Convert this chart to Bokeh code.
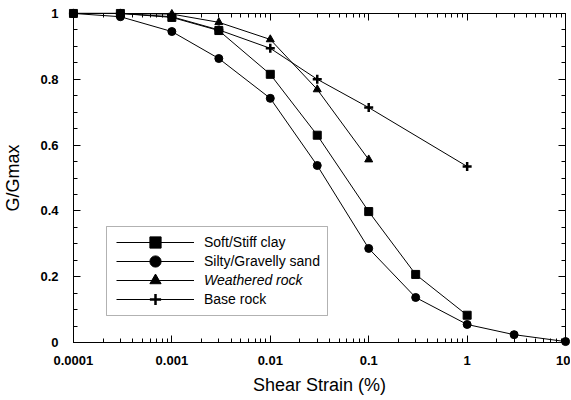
from bokeh.plotting import figure
from bokeh.models import (LogAxis, LinearAxis, Legend, LegendItem, CustomJSTickFormatter,
                          LogTicker, SingleIntervalTicker, Range1d, BoxAnnotation)
from bokeh.embed import file_html
from bokeh.resources import INLINE

# Data
clay_x = [0.0001, 0.0003, 0.001, 0.003, 0.01, 0.03, 0.1, 0.3, 1]
clay_y = [1.0, 1.0, 0.988, 0.948, 0.815, 0.630, 0.398, 0.207, 0.083]
sand_x = [0.0001, 0.0003, 0.001, 0.003, 0.01, 0.03, 0.1, 0.3, 1, 3, 10]
sand_y = [1.0, 0.99, 0.945, 0.863, 0.742, 0.538, 0.286, 0.137, 0.055, 0.024, 0.003]
wrock_x = [0.0001, 0.0003, 0.001, 0.003, 0.01, 0.03, 0.1]
wrock_y = [1.0, 1.0, 0.998, 0.973, 0.921, 0.769, 0.556]
brock_x = [0.0001, 0.0003, 0.001, 0.003, 0.01, 0.03, 0.1, 1]
brock_y = [1.0, 1.0, 0.99, 0.95, 0.894, 0.80, 0.714, 0.535]
labels = ["Soft/Stiff clay", "Silty/Gravelly sand", "Weathered rock", "Base rock"]
label_styles = ["normal", "normal", "italic", "normal"]

X_MIN, X_MAX = 0.0001, 10
Y_MIN, Y_MAX = 0.0, 1.0

FONT = "Liberation Sans"

XPAD = 10 ** 0.05
YPAD = 0.015

p = figure(width=570, height=398, x_axis_type="log",
           x_range=Range1d(X_MIN / XPAD, X_MAX * XPAD), y_range=Range1d(Y_MIN - YPAD, Y_MAX + YPAD),
           output_backend="svg", toolbar_location=None,
           min_border_left=66, min_border_right=0, min_border_top=8, min_border_bottom=51)
p.background_fill_color = "white"
p.border_fill_color = "white"
p.outline_line_color = None
p.xgrid.visible = False
p.ygrid.visible = False

xfmt = CustomJSTickFormatter(code="return parseFloat(tick.toPrecision(3)).toString();")
yfmt = CustomJSTickFormatter(code="var v = Math.round(tick*10)/10; if (v==0) return '0'; if (v==1) return '1'; return v.toFixed(1);")
blank = CustomJSTickFormatter(code="return '';")

def label_axis(ax):
    ax.axis_line_color = None
    ax.major_tick_line_color = None
    ax.minor_tick_line_color = None
    ax.major_label_text_font = FONT
    ax.major_label_text_font_size = "13px"
    ax.major_label_text_font_style = "bold"
    ax.major_label_text_color = "black"
    ax.axis_label_text_font = FONT
    ax.axis_label_text_font_size = "18px"
    ax.axis_label_text_font_style = "normal"
    ax.axis_label_text_color = "black"

def tick_axis(ax):
    ax.axis_line_color = "black"
    ax.axis_line_width = 1
    ax.major_tick_line_color = "black"
    ax.minor_tick_line_color = "black"
    ax.major_tick_in = 7
    ax.major_tick_out = 0
    ax.minor_tick_in = 4
    ax.minor_tick_out = 0
    ax.major_label_standoff = 0

xa = p.xaxis[0]
xa.ticker = LogTicker(num_minor_ticks=10)
xa.formatter = xfmt
xa.axis_label = "Shear Strain (%)"
xa.major_label_standoff = 2
xa.axis_label_standoff = 7
label_axis(xa)

ya = p.yaxis[0]
ya.ticker = SingleIntervalTicker(interval=0.2, num_minor_ticks=4)
ya.formatter = yfmt
ya.axis_label = "G/Gmax"
ya.major_label_standoff = 4
ya.axis_label_standoff = 14
label_axis(ya)

for side, fixed in (("below", Y_MIN), ("above", Y_MAX)):
    ax = LogAxis(ticker=LogTicker(num_minor_ticks=10), formatter=blank,
                 fixed_location=fixed, bounds=(X_MIN, X_MAX))
    tick_axis(ax)
    p.add_layout(ax, side)
for side, fixed in (("left", X_MIN), ("right", X_MAX)):
    ax = LinearAxis(ticker=SingleIntervalTicker(interval=0.2, num_minor_ticks=4), formatter=blank,
                    fixed_location=fixed, bounds=(Y_MIN, Y_MAX))
    tick_axis(ax)
    p.add_layout(ax, side)

series = [
    (clay_x, clay_y, "square", 8, 1),
    (sand_x, sand_y, "circle", 8, 1),
    (wrock_x, wrock_y, "triangle", 8, 1),
    (brock_x, brock_y, "cross", 9, 2.5),
]
rends = []
for (xs, ys, mk, sz, lw) in series:
    ln = p.line(xs, ys, line_color="black", line_width=1)
    sc = p.scatter(xs, ys, marker=mk, size=sz, fill_color="black", line_color="black", line_width=lw)
    rends.append([ln, sc])

# legend frame (screen px relative to the plot frame)
box = BoxAnnotation(left=38, right=259, bottom=32, top=121,
                    left_units="screen", right_units="screen",
                    bottom_units="screen", top_units="screen",
                    fill_color="white", fill_alpha=1, line_color="black", line_width=1)
p.add_layout(box)

# one single-row legend per entry, rows 19 px apart
for i in range(4):
    leg = Legend(items=[LegendItem(label=labels[i], renderers=rends[i])],
                 location=(48, 91 - 19 * i))
    leg.label_text_font = FONT
    leg.label_text_font_size = "14px"
    leg.label_text_font_style = label_styles[i]
    leg.label_text_color = "black"
    leg.glyph_width = 78
    leg.glyph_height = 28
    leg.label_height = 28
    leg.spacing = 0
    leg.padding = 0
    leg.margin = 0
    leg.label_standoff = 10
    leg.border_line_color = None
    leg.background_fill_alpha = 0
    p.add_layout(leg, "center")

open("out.html", "w").write(file_html(p, INLINE))
